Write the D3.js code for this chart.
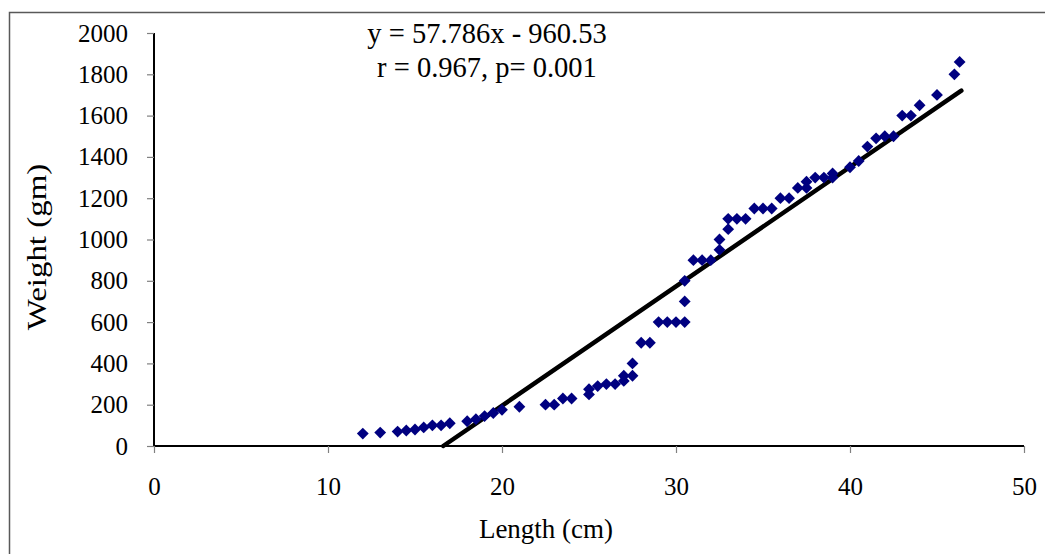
<!DOCTYPE html>
<html><head><meta charset="utf-8">
<script src="https://cdn.jsdelivr.net/npm/d3@7"></script>
<style>body{margin:0;background:#fff}svg{display:block}text{font-family:"Liberation Serif","Times New Roman",serif;fill:#000}</style>
</head><body>
<script>
const lengths = [12,13,14,14.5,15,15.5,16,16.5,17,18,18.5,19,19.5,20,21,22.5,23,23.5,24,25,25,25.5,26,26.5,27,27,27.5,27.5,28,28.5,29,29.5,30,30.5,30.5,30.5,31,31.5,32,32.5,32.5,33,33,33.5,34,34.5,35,35.5,36,36.5,37,37.5,37.5,38,38.5,39,39,40,40.5,41,41.5,42,42.5,43,43.5,44,45,46,46.3];
const weights = [60,65,70,75,80,90,100,100,110,120,130,145,160,175,190,200,200,230,230,250,275,290,300,300,340,315,340,400,500,500,600,600,600,600,700,800,900,900,900,950,1000,1050,1100,1100,1100,1150,1150,1150,1200,1200,1250,1280,1250,1300,1300,1320,1300,1350,1380,1450,1490,1500,1500,1600,1600,1650,1700,1800,1860];
const slope = 57.786, intercept = -960.53;
const trendXEnd = 46.4;
const xTicks = [0,10,20,30,40,50];
const yTicks = [0,200,400,600,800,1000,1200,1400,1600,1800,2000];
const eqLines = ["y = 57.786x - 960.53","r = 0.967, p= 0.001"];

const W = 1045, H = 554;
const svg = d3.select("body").append("svg").attr("width",W).attr("height",H);
svg.append("rect").attr("x",9.5).attr("y",12.5).attr("width",W).attr("height",H)
  .attr("fill","none").attr("stroke","#595959").attr("stroke-width",1.5);

const x = d3.scaleLinear().domain([0,50]).range([154,1024]);
const y = d3.scaleLinear().domain([0,2000]).range([446,33]);

// axes
const xAxis = svg.append("g").attr("transform","translate(0,446)")
  .call(d3.axisBottom(x).tickValues(xTicks).tickSize(7).tickPadding(24).tickFormat(d3.format("d")));
const yAxis = svg.append("g").attr("transform","translate(154,0)")
  .call(d3.axisLeft(y).tickValues(yTicks).tickSize(7).tickPadding(19).tickFormat(d3.format("d")));
[xAxis,yAxis].forEach(a=>{
  a.select(".domain").attr("stroke","#000").attr("stroke-width",2);
  a.selectAll(".tick line").attr("stroke","#808080").attr("stroke-width",1.2);
  a.selectAll("text").style("font-size","25px").attr("fill","#000").style("font-family","'Liberation Serif',serif");
});
xAxis.select(".domain").attr("d","M154,0H1024");
yAxis.select(".domain").attr("d","M0,33V446");
xAxis.selectAll(".tick text").attr("dy","0.71em");

// trend line
const x0 = -intercept/slope;
svg.append("line")
  .attr("x1",x(x0)).attr("y1",y(slope*x0+intercept))
  .attr("x2",x(trendXEnd)).attr("y2",y(slope*trendXEnd+intercept))
  .attr("stroke","#000").attr("stroke-width",4.5).attr("stroke-linecap","round");

// points
svg.append("g").selectAll("path").data(lengths.map((l,i)=>[l,weights[i]])).join("path")
  .attr("transform",d=>`translate(${x(d[0])},${y(d[1])}) rotate(45)`)
  .attr("d",d3.symbol().type(d3.symbolSquare).size(70))
  .attr("fill","#000080");

// equation text
svg.append("g").selectAll("text").data(eqLines).join("text")
  .attr("x",487).attr("y",(d,i)=>43+i*34).attr("text-anchor","middle")
  .style("font-size","28.5px").text(d=>d);

// axis titles
svg.append("text").attr("x",546).attr("y",538).attr("text-anchor","middle")
  .style("font-size","27px").text("Length (cm)");
svg.append("text").attr("transform","translate(46,247) rotate(-90) scale(1.22,1)").attr("text-anchor","middle")
  .style("font-size","27px").text("Weight (gm)");
</script>
</body></html>
